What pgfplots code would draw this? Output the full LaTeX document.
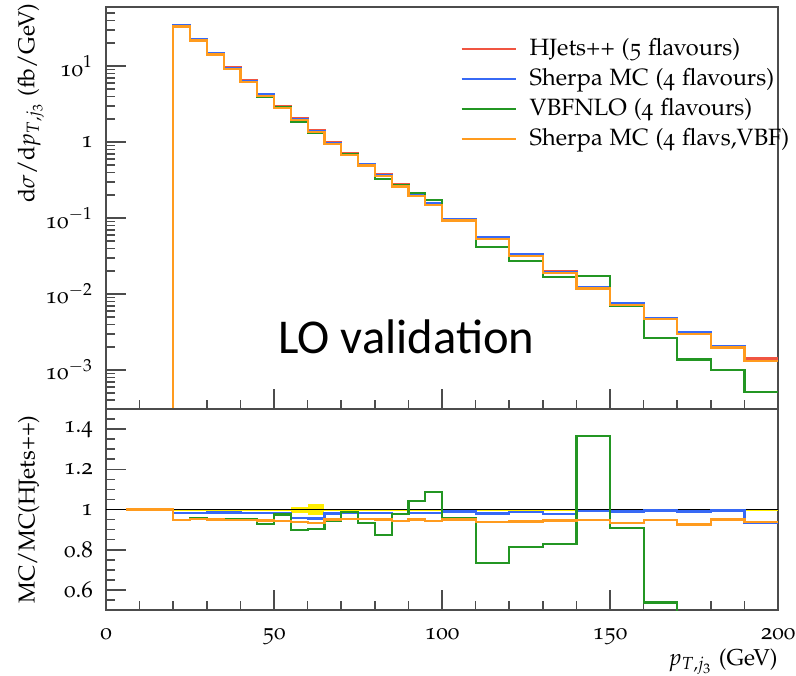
\documentclass[border=0pt]{standalone}
\usepackage[T1]{fontenc}
\usepackage[osf]{mathpazo}
\usepackage{fontspec}
\usepackage{pgfplots}
\pgfplotsset{compat=1.18}
\newfontfamily\carlito{Carlito}
\newcommand\pal{\fontencoding{T1}\fontfamily{pplj}\fontseries{m}\fontshape{n}\selectfont}
\definecolor{cred}{RGB}{240,85,65}
\definecolor{cblue}{RGB}{55,105,245}
\definecolor{cgreen}{RGB}{35,150,35}
\definecolor{corange}{RGB}{255,155,30}
\definecolor{cyellow}{RGB}{255,238,0}
\pgfplotsset{rivet/.style={
  scale only axis, width=336pt, xmin=0, xmax=200,
  axis line style={black!70, line width=0.8pt},
  every tick/.style={black!70, line width=0.8pt},
  major tick length=10pt, minor tick length=4.5pt,
  tick align=inside, xtick pos=bottom, ytick pos=left,
  xtick={0,50,100,150,200}, minor x tick num=4,
  yticklabel style={xshift=-2.5pt},
}}
\begin{document}
\pal\fontsize{11.5}{14}\selectfont
\begin{tikzpicture}
\begin{axis}[rivet, name=top, height=201pt,
  ymode=log, ymin=3.07e-4, ymax=60,
  xticklabels={},
  ytick={1e-3,1e-2,1e-1,1,10},
  yticklabels={10$^{-3}$,10$^{-2}$,10$^{-1}$,1,10$^{1}$},
  minor ytick={4e-4,5e-4,6e-4,7e-4,8e-4,9e-4,
    2e-3,3e-3,4e-3,5e-3,6e-3,7e-3,8e-3,9e-3,
    2e-2,3e-2,4e-2,5e-2,6e-2,7e-2,8e-2,9e-2,
    0.2,0.3,0.4,0.5,0.6,0.7,0.8,0.9,
    2,3,4,5,6,7,8,9,20,30,40,50},
  ylabel={d$\sigma$/d$p_{T,j_3}$ (fb/GeV)},
  ylabel style={at={(axis description cs:-0.092,1.01)}, anchor=south east, inner sep=0pt},
  legend style={at={(axis description cs:0.527,0.933)}, anchor=north west, draw=none, fill=none,
    inner sep=0pt, row sep=0pt, column sep=4.5pt, font=\fontsize{11.8}{14}\selectfont,
    nodes={inner sep=2pt, text height=8.5pt, text depth=2.5pt}},
  legend cell align=left,
  legend image code/.code={\draw[#1] (0pt,0pt) -- (27pt,0pt);},
  every axis plot/.append style={line width=1.1pt, const plot},
]
\addplot[cred] coordinates {(20,1e-5)(20,35)(25,22.8)(30,15)(35,9.7)(40,6.5)(45,4.3)(50,2.98)(55,2.07)(60,1.45)(65,1.0)(70,0.71)(75,0.515)(80,0.375)(85,0.277)(90,0.206)(95,0.158)(100,0.098)(110,0.0565)(120,0.0337)(130,0.0202)(140,0.0125)(150,0.0077)(160,0.0049)(170,0.0032)(180,0.00208)(190,0.00142)(200,0.00142)};
\addlegendentry{HJets++ (5 flavours)}
\addplot[cblue] coordinates {(20,1e-5)(20,34.4)(25,22.41)(30,14.78)(35,9.55)(40,6.39)(45,4.23)(50,2.93)(55,1.983)(60,1.385)(65,0.98)(70,0.698)(75,0.506)(80,0.369)(85,0.271)(90,0.2025)(95,0.1553)(100,0.0970)(110,0.05537)(120,0.03326)(130,0.01974)(140,0.0124)(150,0.00762)(160,0.004876)(170,0.003168)(180,0.00207)(190,0.001325)(200,0.001325)};
\addlegendentry{Sherpa MC (4 flavours)}
\addplot[cgreen] coordinates {(20,1e-5)(20,33.15)(25,21.82)(30,14.30)(35,9.24)(40,6.175)(45,3.99)(50,2.906)(55,1.857)(60,1.308)(65,0.942)(70,0.701)(75,0.4805)(80,0.328)(85,0.2709)(90,0.2147)(95,0.1719)(100,0.0939)(110,0.0414)(120,0.0274)(130,0.01677)(140,0.01709)(150,0.00699)(160,0.00263)(170,0.001376)(180,0.000998)(190,0.000511)(200,0.000511)};
\addlegendentry{VBFNLO (4 flavours)}
\addplot[corange] coordinates {(20,1e-5)(20,33.15)(25,21.73)(30,14.25)(35,9.20)(40,6.16)(45,4.06)(50,2.81)(55,1.94)(60,1.353)(65,0.95)(70,0.677)(75,0.491)(80,0.356)(85,0.261)(90,0.1957)(95,0.1488)(100,0.0931)(110,0.0529)(120,0.03168)(130,0.01909)(140,0.01184)(150,0.00718)(160,0.004645)(170,0.00296)(180,0.001976)(190,0.00133)(200,0.00133)};
\addlegendentry{Sherpa MC (4 flavs,VBF)}
\node[anchor=base west, inner sep=0pt, font=\carlito\fontsize{24.3}{28}\selectfont] at (axis cs:51.2,1.66e-3) {LO validation};
\coordinate (TL) at (rel axis cs:0,1);
\end{axis}
\begin{axis}[rivet, at={(top.south west)}, anchor=north west, height=100.5pt,
  ymin=0.5, ymax=1.5,
  ytick={0.6,0.8,1,1.2,1.4},
  yticklabels={0.6,0.8,1,1.2,1.4},
  minor ytick={0.55,0.65,0.7,0.75,0.85,0.9,0.95,1.05,1.1,1.15,1.25,1.3,1.35,1.45},
  xticklabels={0,50,100,150,200},
  xticklabel style={yshift=-5pt},
  ylabel={MC/MC(HJets++)},
  ylabel style={at={(axis description cs:-0.098,0.5)}, anchor=south, inner sep=0pt},
  xlabel={$p_{T,j_3}$ (GeV)},
  xlabel style={at={(axis description cs:1,-0.274)}, anchor=base east, inner sep=0pt},
]
\addplot[fill=cyellow, draw=none] coordinates {(20,0.995)(200,0.995)(200,1.005)(20,1.005)} -- cycle;
\addplot[fill=cyellow, draw=none] coordinates {(55,0.983)(60,0.983)(60,1.013)(55,1.013)} -- cycle;
\addplot[fill=cyellow, draw=none] coordinates {(60,0.975)(65,0.975)(65,1.028)(60,1.028)} -- cycle;
\addplot[black, line width=0.5pt] coordinates {(0,1)(200,1)};
\addplot[cblue, line width=1.1pt, const plot] coordinates {(6,1)(20,0.983)(25,0.983)(30,0.985)(35,0.985)(40,0.983)(45,0.983)(50,0.983)(55,0.958)(60,0.955)(65,0.98)(70,0.983)(75,0.983)(80,0.983)(85,0.978)(90,0.983)(95,0.983)(100,0.99)(110,0.98)(120,0.987)(130,0.977)(140,0.992)(150,0.99)(160,0.995)(170,0.99)(180,0.995)(190,0.933)(200,0.933)};
\addplot[cgreen, line width=1.1pt, const plot] coordinates {(6,1)(20,0.947)(25,0.957)(30,0.953)(35,0.953)(40,0.95)(45,0.928)(50,0.975)(55,0.897)(60,0.902)(65,0.942)(70,0.987)(75,0.933)(80,0.875)(85,0.978)(90,1.042)(95,1.088)(100,0.958)(110,0.733)(120,0.813)(130,0.83)(140,1.367)(150,0.908)(160,0.537)(170,0.43)(180,0.48)(190,0.36)(200,0.36)};
\addplot[corange, line width=1.1pt, const plot] coordinates {(6,1)(20,0.947)(25,0.953)(30,0.95)(35,0.948)(40,0.947)(45,0.945)(50,0.943)(55,0.937)(60,0.933)(65,0.95)(70,0.953)(75,0.953)(80,0.95)(85,0.942)(90,0.95)(95,0.942)(100,0.95)(110,0.937)(120,0.94)(130,0.945)(140,0.947)(150,0.933)(160,0.948)(170,0.925)(180,0.95)(190,0.937)(200,0.937)};
\coordinate (BR) at (rel axis cs:1,0);
\end{axis}
\pgfresetboundingbox
\path (TL) ++(-53pt,3.5pt) coordinate (A);
\path (BR) ++(9pt,-32.5pt) coordinate (B);
\path (A) rectangle (B);
\end{tikzpicture}
\end{document}
